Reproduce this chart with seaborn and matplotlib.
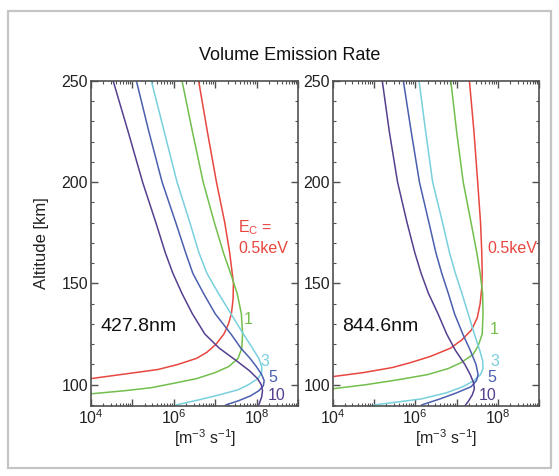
import numpy as np
import pandas as pd
import matplotlib
matplotlib.use("Agg")
import matplotlib.pyplot as plt
import seaborn as sns
from matplotlib.patches import Rectangle
from matplotlib.ticker import FixedLocator, NullFormatter, FixedFormatter

# Energias caracteristicas (keV) y colores
energias = ['0.5', '1', '3', '5', '10']
colores = ['#e8473f', '#72bf4d', '#78d0dc', '#4a5fae', '#553f8f']

# 427.8 nm : altitud [km] y log10(tasa de emision [m-3 s-1])
alt_4278 = [
    [250, 225, 200, 180, 165, 155, 150, 142, 135, 130, 125, 120, 116, 113, 110, 107.5, 105.5, 103],
    [250, 225, 200, 180, 165, 155, 145, 135, 125, 118, 113, 109, 106, 103, 100.5, 98.5, 97, 95.5],
    [250, 225, 200, 180, 165, 155, 145, 135, 125, 118, 113, 109, 106, 103, 100, 97.5, 95, 92.5, 90],
    [250, 225, 200, 180, 165, 155, 145, 135, 125, 118, 113, 109, 105, 102, 99.5, 97, 94.5, 92, 90],
    [250, 225, 200, 180, 165, 155, 145, 135, 125, 118, 112, 107, 103, 100, 97, 94, 90],
]
logv_4278 = [
    [6.60, 6.81, 7.03, 7.23, 7.35, 7.41, 7.44, 7.43, 7.39, 7.32, 7.21, 7.02, 6.80, 6.55, 6.10, 5.62, 4.90, 4.0],
    [6.20, 6.45, 6.71, 6.98, 7.20, 7.37, 7.53, 7.63, 7.66, 7.64, 7.55, 7.33, 7.00, 6.55, 5.95, 5.45, 4.8, 4.0],
    [5.46, 5.77, 6.08, 6.39, 6.61, 6.80, 7.08, 7.38, 7.68, 7.90, 8.05, 8.12, 8.12, 8.03, 7.80, 7.55, 7.10, 6.60, 6.05],
    [5.10, 5.40, 5.72, 6.05, 6.29, 6.46, 6.72, 7.00, 7.38, 7.62, 7.84, 7.99, 8.12, 8.18, 8.16, 8.05, 7.85, 7.55, 7.25],
    [4.54, 4.90, 5.25, 5.57, 5.80, 5.98, 6.20, 6.45, 6.75, 7.10, 7.50, 7.82, 8.02, 8.11, 8.14, 8.12, 8.05],
]

# 844.6 nm
alt_8446 = [
    [250, 225, 200, 180, 165, 155, 148, 140, 133, 127, 122, 118, 114, 111, 108.5, 106, 104],
    [250, 225, 200, 180, 165, 155, 145, 135, 125, 119, 115, 111, 108, 105, 102.5, 100, 98],
    [250, 225, 200, 180, 165, 155, 145, 135, 125, 117, 112, 108, 105, 102, 99, 96, 93, 90],
    [250, 225, 200, 180, 165, 155, 145, 135, 125, 117, 110, 105, 102, 99, 96, 93, 90],
    [250, 225, 200, 180, 165, 155, 145, 135, 125, 117, 110, 105, 101, 98, 95, 92, 89.5],
]
logv_8446 = [
    [7.31, 7.42, 7.51, 7.58, 7.61, 7.62, 7.61, 7.57, 7.50, 7.36, 7.12, 6.85, 6.37, 5.90, 5.45, 4.75, 4.0],
    [6.86, 7.00, 7.16, 7.35, 7.49, 7.57, 7.63, 7.64, 7.62, 7.52, 7.40, 7.12, 6.80, 6.30, 5.60, 4.80, 4.0],
    [6.09, 6.25, 6.42, 6.66, 6.83, 6.97, 7.13, 7.28, 7.43, 7.56, 7.63, 7.64, 7.58, 7.42, 7.15, 6.75, 6.15, 5.0],
    [5.71, 5.90, 6.10, 6.33, 6.50, 6.64, 6.80, 6.95, 7.15, 7.33, 7.47, 7.52, 7.48, 7.35, 7.00, 6.60, 6.15],
    [5.20, 5.37, 5.57, 5.80, 5.99, 6.14, 6.32, 6.55, 6.76, 6.97, 7.20, 7.33, 7.41, 7.43, 7.38, 7.29, 7.20],
]

sns.set_style("ticks")
plt.rcParams['font.family'] = ['Liberation Sans', 'DejaVu Sans']
plt.rcParams['mathtext.fontset'] = 'custom'
plt.rcParams['mathtext.rm'] = 'Liberation Sans'
plt.rcParams['mathtext.it'] = 'Liberation Sans:italic'
plt.rcParams['mathtext.default'] = 'regular'

W, H = 559, 476
fig = plt.figure(figsize=(W / 100, H / 100), dpi=100)
fig.patch.set_facecolor('white')

# marco gris alrededor de la figura
fig.patches.append(Rectangle((8 / W, 8 / H), 543 / W, 457 / H, transform=fig.transFigure,
                             fill=False, edgecolor='#c4c4c4', lw=1.6))

ax1 = fig.add_axes([90.7 / W, 1 - 406 / H, 207.5 / W, 325.3 / H])
ax2 = fig.add_axes([332.7 / W, 1 - 406 / H, 206.5 / W, 325.3 / H])

gris = '#505050'
for ax, alts, vals, onda in [(ax1, alt_4278, logv_4278, '427.8nm'), (ax2, alt_8446, logv_8446, '844.6nm')]:
    for a, v, c in zip(alts, vals, colores):
        sns.lineplot(x=10 ** np.array(v), y=np.array(a), sort=False, estimator=None,
                     color=c, lw=1.1, ax=ax, legend=False)
    ax.set_xscale('log')
    ax.set_xlim(1e4, 1e9)
    ax.set_ylim(89.5, 250)
    ax.xaxis.set_major_locator(FixedLocator([1e4, 1e5, 1e6, 1e7, 1e8, 1e9]))
    ax.xaxis.set_major_formatter(FixedFormatter(['10$^4$', '', '10$^6$', '', '10$^8$', '']))
    ax.xaxis.set_minor_locator(FixedLocator([m * 10.0 ** e for e in range(4, 9) for m in range(2, 10)]))
    ax.xaxis.set_minor_formatter(NullFormatter())
    ax.yaxis.set_major_locator(FixedLocator([100, 150, 200, 250]))
    ax.yaxis.set_minor_locator(FixedLocator(list(range(90, 251, 10))))
    ax.tick_params(which='both', direction='in', top=True, right=True, color=gris, labelsize=11.5,
                   labelcolor='#222222')
    ax.tick_params(which='major', length=5, width=1, pad=2)
    ax.tick_params(which='minor', length=2.5, width=0.8)
    for s in ax.spines.values():
        s.set_color(gris)
        s.set_linewidth(1.2)
    ax.set_xlabel('[m$^{-3}$ s$^{-1}$]', fontsize=11.5, color='#222222', labelpad=1)
    ax.xaxis.set_label_coords(0.55, -0.065)
    ax.set_ylabel('')
    ax.text(0.045, 0.245, onda, transform=ax.transAxes, fontsize=14, color='#111111', va='center')

ax1.set_ylabel('Altitude [km]', fontsize=12, color='#222222', labelpad=9)


def etiqueta(px, py, s, c, ha='left'):
    fig.text(px / W, 1 - py / H, s, fontsize=11.5, color=c, ha=ha, va='center')


# etiquetas de energia
etiqueta(238, 228, 'E$_C$ =', colores[0])
etiqueta(238, 248, '0.5keV', colores[0])
etiqueta(487, 248, '0.5keV', colores[0])
for px, py, s, c in zip([248, 265, 273, 277], [320, 362, 378, 395], energias[1:], colores[1:]):
    etiqueta(px, py, s, c, ha='center')
for px, py, s, c in zip([494, 495, 492, 488], [330, 362, 378, 395], energias[1:], colores[1:]):
    etiqueta(px, py, s, c, ha='center')

fig.text(290 / W, 1 - 56 / H, 'Volume Emission Rate', fontsize=13, color='#111111', ha='center', va='center')

fig.savefig('out.png', dpi=100)
